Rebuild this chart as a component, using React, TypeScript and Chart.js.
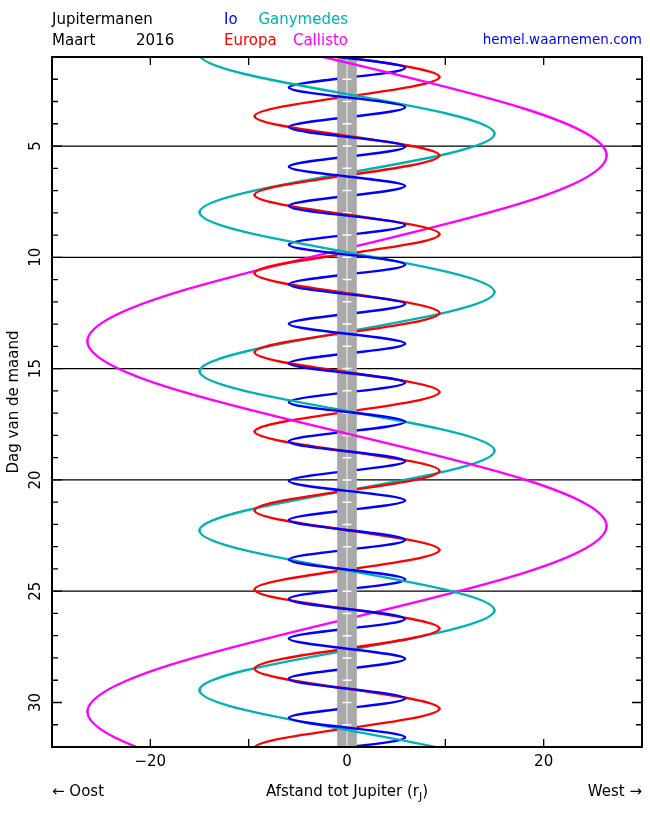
import React, { useEffect, useRef } from 'react';
import { Chart, registerables } from 'chart.js';

Chart.register(...registerables);

const FONT = '"DejaVu Sans", "Liberation Sans", sans-serif';

// Turning points (day of the month, distance from Jupiter in r_J).
// West is positive (right), east is negative (left).
const ioDays = [-0.28, 0.6, 1.49, 2.37, 3.26, 4.15, 5.03, 5.93, 6.8, 7.69, 8.56, 9.43, 10.33, 11.21, 12.1, 12.99, 13.88, 14.76, 15.63, 16.51, 17.39, 18.27, 19.16, 20.05, 20.93, 21.8, 22.7, 23.58, 24.47, 25.35, 26.25, 27.13, 28.04, 28.93, 29.82, 30.69, 31.57, 32.45, 33.33];
const ioDist = [5.9, -5.9, 5.9, -5.9, 5.9, -5.9, 5.9, -5.9, 5.9, -5.9, 5.9, -5.9, 5.9, -5.9, 5.9, -5.9, 5.9, -5.9, 5.9, -5.9, 5.9, -5.9, 5.9, -5.9, 5.9, -5.9, 5.9, -5.9, 5.9, -5.9, 5.9, -5.9, 5.9, -5.9, 5.9, -5.9, 5.9, -5.9, 5.9];

const europaDays = [-1.65, 0.13, 1.9, 3.66, 5.43, 7.2, 8.96, 10.72, 12.5, 14.27, 16.05, 17.83, 19.6, 21.37, 23.15, 24.92, 26.68, 28.48, 30.28, 32.04, 33.82];
const europaDist = [9.4, -9.4, 9.4, -9.4, 9.4, -9.4, 9.4, -9.4, 9.4, -9.4, 9.4, -9.4, 9.4, -9.4, 9.4, -9.4, 9.4, -9.4, 9.4, -9.4, 9.4];

const ganymedesDays = [-2.7, 0.88, 4.45, 7.98, 11.56, 15.12, 18.69, 22.27, 25.86, 29.45, 33.03, 36.6];
const ganymedesDist = [15.0, -15.0, 15.0, -15.0, 15.0, -15.0, 15.0, -15.0, 15.0, -15.0, 15.0, -15.0];

const callistoDays = [-11.24, -2.91, 5.42, 13.77, 22.07, 30.42, 38.75, 47.05];
const callistoDist = [26.4, -26.4, 26.4, -26.4, 26.4, -26.4, 26.4, -26.4];

// Axes
const X_MIN = -30;
const X_MAX = 30;
const DAY_MIN = 1;
const DAY_MAX = 32;
const JUPITER_RADIUS = 1;
const dayLabelValues = [5, 10, 15, 20, 25, 30];
const dayLabels = ['5', '10', '15', '20', '25', '30'];
const gridDays = [5, 10, 15, 20, 25];
const xTickValues = [-20, -10, 0, 10, 20];
const xLabelValues = [-20, 0, 20];
const xLabels = ['\u221220', '0', '20'];

type Moon = { name: string; color: string; days: number[]; dist: number[] };
const moons: Moon[] = [
  { name: 'Io', color: '#0000ff', days: ioDays, dist: ioDist },
  { name: 'Europa', color: '#ff0000', days: europaDays, dist: europaDist },
  { name: 'Ganymedes', color: '#00b2b2', days: ganymedesDays, dist: ganymedesDist },
  { name: 'Callisto', color: '#ff00ff', days: callistoDays, dist: callistoDist },
];

const HIDDEN = 'rgba(0,0,0,0)';

const decorPlugin = {
  id: 'decor',
  beforeDatasetsDraw(chart: any) {
    const { ctx, chartArea: a } = chart;
    const xs = chart.scales.x;
    const ys = chart.scales.y;
    ctx.save();
    ctx.strokeStyle = '#000';
    ctx.lineWidth = 1.3;
    ctx.beginPath();
    for (const d of gridDays) {
      const py = ys.getPixelForValue(d);
      ctx.moveTo(a.left, py);
      ctx.lineTo(a.right, py);
    }
    ctx.stroke();
    ctx.lineWidth = 1.3;
    ctx.beginPath();
    for (let d = DAY_MIN + 1; d < DAY_MAX; d++) {
      const py = ys.getPixelForValue(d);
      const len = dayLabelValues.includes(d) ? 10 : 6;
      ctx.moveTo(a.left, py);
      ctx.lineTo(a.left + len, py);
      ctx.moveTo(a.right, py);
      ctx.lineTo(a.right - len, py);
    }
    for (const v of xTickValues) {
      const px = xs.getPixelForValue(v);
      ctx.moveTo(px, a.top);
      ctx.lineTo(px, a.top + 8);
      ctx.moveTo(px, a.bottom);
      ctx.lineTo(px, a.bottom - 8);
    }
    ctx.stroke();
    ctx.restore();
  },
  afterDatasetDraw(chart: any, args: any) {
    if (args.index !== 0) return;
    const { ctx, chartArea: a } = chart;
    const xs = chart.scales.x;
    const ys = chart.scales.y;
    const l = xs.getPixelForValue(-JUPITER_RADIUS);
    const r = xs.getPixelForValue(JUPITER_RADIUS);
    const c = xs.getPixelForValue(0);
    ctx.save();
    ctx.fillStyle = '#a9a9a9';
    ctx.fillRect(l, a.top, r - l, a.bottom - a.top);
    ctx.strokeStyle = '#f4f4f4';
    ctx.lineWidth = 1;
    ctx.beginPath();
    ctx.moveTo(c, a.top);
    ctx.lineTo(c, a.bottom);
    ctx.stroke();
    ctx.strokeStyle = '#ffffff';
    ctx.lineWidth = 1.5;
    ctx.beginPath();
    const tl = xs.getPixelForValue(-0.45);
    const tr = xs.getPixelForValue(0.45);
    for (let d = DAY_MIN + 1; d < DAY_MAX; d++) {
      const py = ys.getPixelForValue(d);
      ctx.moveTo(tl, py);
      ctx.lineTo(tr, py);
    }
    ctx.stroke();
    ctx.restore();
  },
  afterDraw(chart: any) {
    const { ctx, chartArea: a } = chart;
    const xs = chart.scales.x;
    const ys = chart.scales.y;
    ctx.save();
    ctx.strokeStyle = '#000';
    ctx.lineWidth = 2;
    ctx.strokeRect(a.left, a.top, a.right - a.left, a.bottom - a.top);

    const text = (s: string, x: number, y: number, color: string, align: CanvasTextAlign, size = 15) => {
      ctx.font = `${size}px ${FONT}`;
      ctx.fillStyle = color;
      ctx.textAlign = align;
      ctx.textBaseline = 'middle';
      ctx.fillText(s, x, y);
    };

    // header
    text('Jupitermanen', 52, 20, '#000', 'left');
    text('Maart', 52, 41, '#000', 'left');
    text('2016', 136, 41, '#000', 'left');
    text('Io', 224, 20, moons[0].color, 'left');
    text('Europa', 224, 41, moons[1].color, 'left');
    text('Ganymedes', 348, 20, moons[2].color, 'right');
    text('Callisto', 348, 41, moons[3].color, 'right');
    text('hemel.waarnemen.com', 642, 40, '#0000ff', 'right', 13.5);

    // y tick labels (rotated)
    dayLabelValues.forEach((d, i) => {
      const py = ys.getPixelForValue(d);
      ctx.save();
      ctx.translate(36, py);
      ctx.rotate(-Math.PI / 2);
      text(dayLabels[i], 0, 0, '#000', 'center');
      ctx.restore();
    });
    ctx.save();
    ctx.translate(14, (a.top + a.bottom) / 2);
    ctx.rotate(-Math.PI / 2);
    text('Dag van de maand', 0, 0, '#000', 'center');
    ctx.restore();

    // x tick labels
    xLabelValues.forEach((v, i) => {
      text(xLabels[i], xs.getPixelForValue(v), 762, '#000', 'center');
    });

    // x axis title with subscript
    ctx.font = `15px ${FONT}`;
    const main = 'Afstand tot Jupiter (r';
    const wMain = ctx.measureText(main).width;
    const wClose = ctx.measureText(')').width;
    ctx.font = `11px ${FONT}`;
    const wSub = ctx.measureText('J').width;
    const total = wMain + wSub + wClose;
    const x0 = xs.getPixelForValue(0) - total / 2;
    text(main, x0, 792, '#000', 'left');
    text('J', x0 + wMain, 797, '#000', 'left', 11);
    text(')', x0 + wMain + wSub, 792, '#000', 'left');

    text('\u2190 Oost', 52, 792, '#000', 'left');
    text('West \u2192', 642, 792, '#000', 'right');
    ctx.restore();
  },
};

export default function App() {
  const canvasRef = useRef<HTMLCanvasElement | null>(null);

  useEffect(() => {
    if (!canvasRef.current) return;
    const toPoints = (m: Moon) => m.days.map((d, i) => ({ x: m.dist[i], y: d }));
    const behind = moons.map((m) => ({
      label: m.name + ' (achter)',
      data: toPoints(m),
      borderColor: m.color,
      order: 2,
      segment: {
        borderColor: (c: any) => (c.p1.parsed.x < c.p0.parsed.x ? m.color : HIDDEN),
      },
    }));
    const front = moons.map((m) => ({
      label: m.name,
      data: toPoints(m),
      borderColor: m.color,
      order: 1,
      segment: {
        borderColor: (c: any) => (c.p1.parsed.x >= c.p0.parsed.x ? m.color : HIDDEN),
      },
    }));

    const chart = new Chart(canvasRef.current, {
      type: 'line',
      data: { datasets: [...behind, ...front] as any },
      options: {
        animation: false,
        responsive: false,
        events: [],
        layout: { padding: { left: 52, top: 57, right: 8, bottom: 66 } },
        plugins: { legend: { display: false }, tooltip: { enabled: false } },
        elements: {
          point: { radius: 0 },
          line: {
            tension: 1 / 3,
            capBezierPoints: false,
            borderWidth: 2.4,
            borderCapStyle: 'round',
            borderJoinStyle: 'round',
            fill: false,
          },
        },
        scales: {
          x: { type: 'linear', min: X_MIN, max: X_MAX, display: false },
          y: { type: 'linear', min: DAY_MIN, max: DAY_MAX, reverse: true, display: false },
        },
      },
      plugins: [decorPlugin as any],
    });
    return () => chart.destroy();
  }, []);

  return (
    <div style={{ position: 'absolute', left: 0, top: 0, width: 650, height: 813, background: '#fff' }}>
      <canvas ref={canvasRef} width={650} height={813} style={{ display: 'block' }} />
    </div>
  );
}
